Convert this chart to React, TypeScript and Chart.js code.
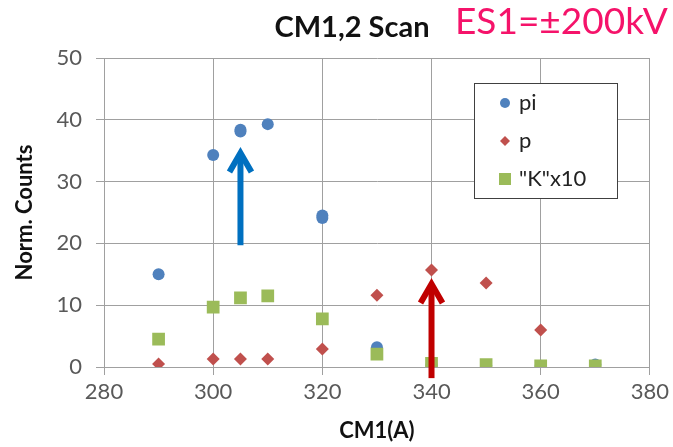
import React, { useEffect, useRef } from 'react';
import { Chart, registerables } from 'chart.js';
Chart.register(...registerables);

const xPi = [290, 300, 305, 305, 310, 320, 320, 330, 340, 350, 360, 370];
const yPi = [15.0, 34.3, 38.1, 38.4, 39.3, 24.1, 24.5, 3.2, 0.3, 0.3, 0.2, 0.4];
const xP = [290, 300, 305, 310, 320, 330, 340, 350, 360];
const yP = [0.5, 1.3, 1.3, 1.3, 2.9, 11.6, 15.7, 13.6, 6.0];
const xK = [290, 300, 305, 310, 320, 330, 340, 350, 360, 370];
const yK = [4.5, 9.7, 11.2, 11.5, 7.8, 2.1, 0.6, 0.4, 0.2, 0.2];
const seriesLabels = ['pi', 'p', '"K"x10'];
const seriesColors = ['#4F81BD', '#C0504D', '#9BBB59'];
const seriesShapes = ['circle', 'rectRot', 'rect'];
const titleText = 'CM1,2 Scan';
const noteText = 'ES1=±200kV';
const xAxisTitle = 'CM1(A)';
const yAxisTitle = 'Norm. Counts';
const arrowX = [305, 340];
const arrowFrom = [19.7, -1.8];
const arrowTo = [35.1, 13.9];
const arrowColors = ['#0070C0', '#C00000'];

const FONT = 'Lato, "Open Sans", sans-serif';

const pts = (xs: number[], ys: number[]) => xs.map((x, i) => ({ x, y: ys[i] }));

const overlay = {
  id: 'overlay',
  afterDatasetsDraw(chart: any) {
    const ctx = chart.ctx;
    const xs = chart.scales.x;
    const ys = chart.scales.y;
    ctx.save();
    for (let i = 0; i < arrowX.length; i++) {
      const px = xs.getPixelForValue(arrowX[i]);
      const y0 = ys.getPixelForValue(arrowFrom[i]);
      const y1 = ys.getPixelForValue(arrowTo[i]);
      ctx.strokeStyle = arrowColors[i];
      ctx.lineWidth = 6;
      ctx.lineCap = 'butt';
      ctx.lineJoin = 'miter';
      ctx.beginPath();
      ctx.moveTo(px, y0);
      ctx.lineTo(px, y1 + 3);
      ctx.stroke();
      ctx.beginPath();
      ctx.moveTo(px - 11, y1 + 22);
      ctx.lineTo(px, y1 + 3);
      ctx.lineTo(px + 11, y1 + 22);
      ctx.stroke();
    }
    ctx.restore();
  },
  afterDraw(chart: any) {
    const ctx = chart.ctx;
    ctx.save();
    ctx.textBaseline = 'alphabetic';
    ctx.fillStyle = '#111';
    ctx.font = `bold 29px ${FONT}`;
    ctx.textAlign = 'center';
    ctx.fillText(titleText, 352, 37);
    ctx.fillStyle = '#F5136A';
    ctx.font = `37px ${FONT}`;
    ctx.textAlign = 'left';
    ctx.fillText(noteText, 455, 34);

    // legend
    const bx = 474, by = 83, bw = 143, bh = 115;
    ctx.fillStyle = '#fff';
    ctx.fillRect(bx, by, bw, bh);
    ctx.strokeStyle = '#404040';
    ctx.lineWidth = 1;
    ctx.strokeRect(bx + 0.5, by + 0.5, bw, bh);
    const rowsY = [103, 141, 179];
    for (let i = 0; i < seriesLabels.length; i++) {
      const cx = 505, cy = rowsY[i];
      ctx.fillStyle = seriesColors[i];
      ctx.beginPath();
      if (seriesShapes[i] === 'circle') {
        ctx.arc(cx, cy, 5, 0, Math.PI * 2);
      } else if (seriesShapes[i] === 'rectRot') {
        ctx.moveTo(cx, cy - 5);
        ctx.lineTo(cx + 5, cy);
        ctx.lineTo(cx, cy + 5);
        ctx.lineTo(cx - 5, cy);
        ctx.closePath();
      } else {
        ctx.rect(cx - 6, cy - 6, 12, 12);
      }
      ctx.fill();
      ctx.fillStyle = '#222';
      ctx.font = `22px ${FONT}`;
      ctx.textBaseline = 'middle';
      ctx.fillText(seriesLabels[i], 519, cy);
    }
    ctx.restore();
  },
};

export default function App() {
  const ref = useRef<HTMLCanvasElement>(null);
  useEffect(() => {
    document.body.style.margin = '0';
    const chart = new Chart(ref.current as HTMLCanvasElement, {
      type: 'scatter',
      data: {
        datasets: [
          { label: seriesLabels[0], data: pts(xPi, yPi), order: 3 },
          { label: seriesLabels[1], data: pts(xP, yP), order: 2 },
          { label: seriesLabels[2], data: pts(xK, yK), order: 1 },
        ].map((d, i) => ({
          ...d,
          backgroundColor: seriesColors[i],
          borderColor: seriesColors[i],
          borderWidth: 0,
          pointStyle: seriesShapes[i] as any,
          pointRadius: [6, 6.5, 9][i],
        })),
      },
      options: {
        animation: false,
        responsive: false,
        devicePixelRatio: 1,
        layout: { padding: { top: 58, right: 22, bottom: 0, left: 0 } },
        plugins: { legend: { display: false }, tooltip: { enabled: false }, title: { display: false } },
        scales: {
          x: {
            type: 'linear',
            min: 280,
            max: 380,
            ticks: { stepSize: 20, color: '#595959', font: { family: FONT, size: 22 }, padding: 4 },
            grid: { color: '#A0A0A0', lineWidth: 1, tickLength: 8 },
            border: { color: '#A0A0A0' },
            title: { display: true, text: xAxisTitle, color: '#111', font: { family: FONT, size: 22, weight: 'bold' }, padding: { top: 0, bottom: 3 } },
            afterFit: (s: any) => { s.height = 80; },
          },
          y: {
            type: 'linear',
            min: 0,
            max: 50,
            ticks: { stepSize: 10, color: '#595959', font: { family: FONT, size: 22 }, padding: 14 },
            grid: { color: '#A0A0A0', lineWidth: 1, tickLength: 8 },
            border: { color: '#A0A0A0' },
            title: { display: true, text: yAxisTitle, color: '#111', font: { family: FONT, size: 22, weight: 'bold' }, padding: { top: 12, bottom: 0 } },
            afterFit: (s: any) => { s.width = 104; },
          },
        },
      } as any,
      plugins: [overlay],
    });
    return () => chart.destroy();
  }, []);
  return (
    <div style={{ position: 'absolute', left: 0, top: 0, width: 673, height: 447 }}>
      <canvas ref={ref} width={673} height={447} />
    </div>
  );
}
